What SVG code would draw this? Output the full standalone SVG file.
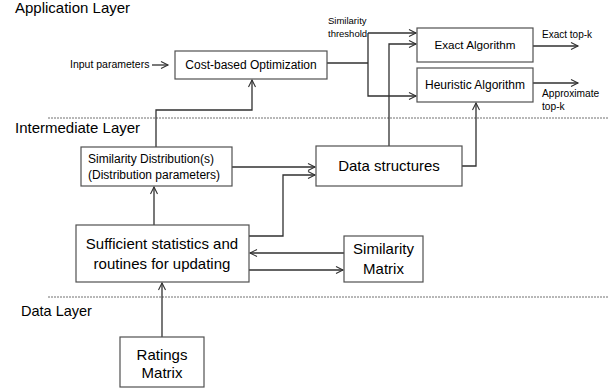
<svg xmlns="http://www.w3.org/2000/svg" width="616" height="391" viewBox="0 0 616 391">
<style>
text{font-family:"Liberation Sans",Arial,sans-serif;fill:#000}
.box{fill:#fff;stroke:#505050;stroke-width:1.2}
.ln{fill:none;stroke:#303030;stroke-width:1.3}
.dot{stroke:#707070;stroke-width:1;stroke-dasharray:2,1}
.c{text-anchor:middle}
</style>
<defs>
<marker id="a" markerWidth="10" markerHeight="10" refX="8" refY="4" orient="auto" markerUnits="userSpaceOnUse">
<path d="M1,0.5 L8,4 L1,7.5" fill="none" stroke="#303030" stroke-width="1.1"/>
</marker>
</defs>
<g id="layers">
<text x="15" y="13" font-size="15">Application Layer</text>
<line class="dot" x1="48" y1="118" x2="608" y2="118"/>
<text x="15" y="133" font-size="15">Intermediate Layer</text>
<line class="dot" x1="48" y1="297" x2="608" y2="297"/>
<text x="21" y="316" font-size="14.5">Data Layer</text>
</g>
<g id="connectors">
<text x="70" y="68" font-size="10.5">Input parameters</text>
<path class="ln" d="M152,65 H168" marker-end="url(#a)"/>
<path class="ln" d="M156,148 V110 H252 V80" marker-end="url(#a)"/>
<path class="ln" d="M327,63 H368"/>
<path class="ln" d="M368,33 H416" marker-end="url(#a)"/>
<path class="ln" d="M368,33 V96 H416" marker-end="url(#a)"/>
<path class="ln" d="M389,146 V44 H416" marker-end="url(#a)"/>
<path class="ln" d="M533,46 H578" marker-end="url(#a)"/>
<path class="ln" d="M533,83 H578" marker-end="url(#a)"/>
<path class="ln" d="M462,166 H476 V103" marker-end="url(#a)"/>
<path class="ln" d="M232,167 H315" marker-end="url(#a)"/>
<path class="ln" d="M249,236 H283 V175 H315" marker-end="url(#a)"/>
<path class="ln" d="M154,225 V187" marker-end="url(#a)"/>
<path class="ln" d="M344,253 H250" marker-end="url(#a)"/>
<path class="ln" d="M249,270 H343" marker-end="url(#a)"/>
<path class="ln" d="M162,337 V283" marker-end="url(#a)"/>
<text x="328" y="24" font-size="9.5">Similarity</text>
<text x="328" y="37" font-size="9.5">threshold</text>
<text x="542" y="38" font-size="10">Exact top-k</text>
<text x="542" y="97" font-size="10.2">Approximate</text>
<text x="542" y="110" font-size="10.2">top-k</text>
</g>
<g id="cost">
<rect class="box" x="175" y="51" width="152" height="28"/>
<text class="c" x="251" y="69" font-size="12">Cost-based Optimization</text>
</g>
<g id="exact">
<rect class="box" x="417" y="28" width="116" height="34"/>
<text class="c" x="475" y="49" font-size="11.7">Exact Algorithm</text>
</g>
<g id="heuristic">
<rect class="box" x="417" y="68" width="116" height="34"/>
<text class="c" x="475" y="89" font-size="12">Heuristic Algorithm</text>
</g>
<g id="simdist">
<rect class="box" x="81" y="147" width="151" height="39"/>
<text x="88" y="163" font-size="12">Similarity Distribution(s)</text>
<text x="88" y="179" font-size="12">(Distribution parameters)</text>
</g>
<g id="datastructures">
<rect class="box" x="316" y="146" width="146" height="40"/>
<text class="c" x="389" y="171" font-size="15">Data structures</text>
</g>
<g id="sufficient">
<rect class="box" x="76" y="225" width="173" height="57"/>
<text class="c" x="162" y="249" font-size="15">Sufficient statistics and</text>
<text class="c" x="162" y="269" font-size="15">routines for updating</text>
</g>
<g id="simmatrix">
<rect class="box" x="344" y="236" width="79" height="46"/>
<text class="c" x="383.5" y="254" font-size="15">Similarity</text>
<text class="c" x="383.5" y="274" font-size="15">Matrix</text>
</g>
<g id="ratings">
<rect class="box" x="120" y="337" width="84" height="50"/>
<text class="c" x="162" y="360" font-size="15">Ratings</text>
<text class="c" x="162" y="378" font-size="15">Matrix</text>
</g>
</svg>
